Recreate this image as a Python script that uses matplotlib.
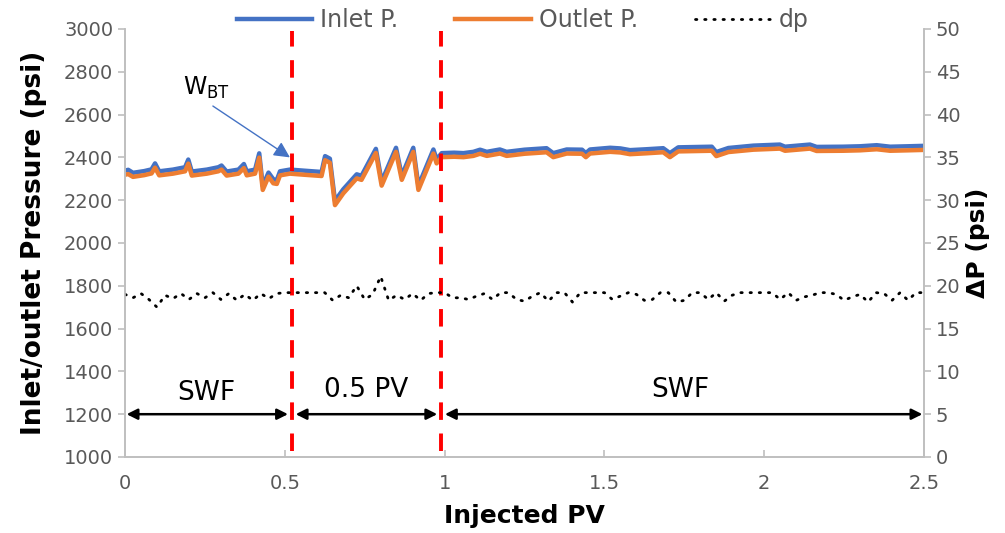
import numpy as np
import matplotlib
matplotlib.use("Agg")
import matplotlib.pyplot as plt

# ---------------- data ----------------
pv_p = [0.0, 0.01, 0.025, 0.06, 0.083, 0.094, 0.107, 0.15, 0.188, 0.198, 0.209,
        0.256, 0.292, 0.302, 0.318, 0.355, 0.372, 0.381, 0.407, 0.42, 0.431,
        0.449, 0.464, 0.475, 0.485, 0.516, 0.56, 0.615, 0.626, 0.641, 0.657,
        0.683, 0.725, 0.74, 0.785, 0.803, 0.848, 0.866, 0.902, 0.918, 0.965,
        0.975, 0.991, 1.03, 1.059, 1.09, 1.111, 1.132, 1.173, 1.194, 1.25,
        1.319, 1.34, 1.382, 1.43, 1.442, 1.455, 1.518, 1.55, 1.58, 1.63,
        1.684, 1.705, 1.731, 1.836, 1.85, 1.888, 1.966, 2.049, 2.065, 2.143,
        2.164, 2.247, 2.3, 2.352, 2.394, 2.45, 2.5]

inlet_p = [2338, 2342, 2328, 2336, 2344, 2372, 2335, 2343, 2354, 2390, 2334,
           2343, 2354, 2362, 2334, 2343, 2369, 2335, 2343, 2419, 2267,
           2329, 2298, 2294, 2335, 2343, 2338, 2332, 2406, 2394, 2197,
           2251, 2321, 2314, 2440, 2287, 2445, 2314, 2445, 2267, 2437,
           2391, 2420, 2422, 2420, 2426, 2436, 2426, 2437, 2426, 2436,
           2443, 2420, 2437, 2436, 2420, 2437, 2445, 2442, 2434, 2438,
           2443, 2420, 2447, 2450, 2425, 2444, 2455, 2460, 2450, 2460,
           2449, 2450, 2452, 2457, 2450, 2452, 2454]

outlet_p = [2319, 2322, 2309, 2317, 2325, 2352, 2316, 2324, 2335, 2371, 2315,
            2324, 2335, 2343, 2315, 2324, 2350, 2316, 2324, 2399, 2248,
            2310, 2279, 2276, 2316, 2324, 2319, 2313, 2387, 2375, 2177,
            2232, 2302, 2295, 2421, 2268, 2426, 2295, 2426, 2248, 2418,
            2372, 2401, 2403, 2401, 2407, 2417, 2407, 2418, 2407, 2417,
            2424, 2401, 2418, 2417, 2401, 2418, 2426, 2423, 2415, 2419,
            2424, 2401, 2428, 2431, 2406, 2425, 2436, 2441, 2431, 2441,
            2430, 2431, 2433, 2438, 2431, 2433, 2435]

pv_dp = np.arange(0, 101) * 0.025
dp = [19.0, 18.6, 19.1, 18.4, 17.5, 18.9, 18.5, 19.1, 18.4, 19.1,
      18.6, 19.2, 18.4, 19.1, 18.3, 19.0, 18.3, 19.1, 18.5, 19.1,
      19.2, 19.2, 19.2, 19.2, 19.2, 19.2, 18.3, 18.9, 18.6, 20.0,
      18.4, 19.0, 21.1, 18.3, 18.9, 18.4, 19.1, 18.3, 19.1, 19.2,
      19.2, 18.6, 18.6, 18.4, 18.8, 19.1, 18.4, 19.2, 19.2, 18.4,
      18.2, 18.8, 19.2, 18.2, 19.2, 19.2, 18.1, 19.2, 19.2, 19.2,
      19.2, 18.4, 18.8, 19.2, 19.0, 18.3, 18.4, 19.2, 19.2, 18.1,
      18.3, 19.2, 19.2, 18.4, 19.2, 18.2, 18.9, 19.2, 19.2, 19.2,
      19.2, 19.2, 18.4, 19.2, 18.3, 18.7, 18.9, 19.2, 19.2, 19.0,
      18.3, 18.7, 19.0, 18.1, 19.2, 19.1, 18.3, 19.2, 18.3, 19.2,
      19.2]

stage_bounds = [0.0, 0.522, 0.989, 2.5]
stage_labels = ["SWF", "0.5 PV", "SWF"]
wbt_label = "W$_{\\mathregular{BT}}$"

x_ticks = [0, 0.5, 1, 1.5, 2, 2.5]
x_ticklabels = ["0", "0.5", "1", "1.5", "2", "2.5"]
y_ticks = list(range(1000, 3001, 200))
y2_ticks = list(range(0, 51, 5))

# ---------------- style ----------------
BLUE = "#4472C4"
ORANGE = "#ED7D31"
GRAY_TXT = "#595959"
GRAY_AX = "#BFBFBF"

plt.rcParams["font.family"] = ["DejaVu Sans"]

fig = plt.figure(figsize=(10.05, 5.33), dpi=100)
ax = fig.add_axes([125 / 1005, 1 - 457 / 533, (924 - 125) / 1005, (457 - 29) / 533])
ax2 = ax.twinx()

l1, = ax.plot(pv_p, inlet_p, color=BLUE, lw=3.2, solid_joinstyle="round", label="Inlet P.")
l2, = ax.plot(pv_p, outlet_p, color=ORANGE, lw=3.2, solid_joinstyle="round", label="Outlet P.")
l3, = ax2.plot(pv_dp, dp, color="black", lw=2.0, linestyle=(0, (0.5, 2.8)),
               dash_capstyle="round", label="dp")

ax.set_xlim(0, 2.5)
ax.set_ylim(1000, 3000)
ax2.set_ylim(0, 50)
ax.set_xticks(x_ticks)
ax.set_xticklabels(x_ticklabels)
ax.set_yticks(y_ticks)
ax2.set_yticks(y2_ticks)

for a in (ax, ax2):
    for s in a.spines.values():
        s.set_color(GRAY_AX)
        s.set_linewidth(1.2)
    a.spines["top"].set_visible(False)
ax.tick_params(axis="y", colors=GRAY_AX, labelcolor=GRAY_TXT, labelsize=14, length=5, width=1.2)
ax.tick_params(axis="x", colors=GRAY_AX, labelcolor=GRAY_TXT, labelsize=14, length=5, width=1.2,
               direction="in", pad=12)
ax2.tick_params(axis="y", colors=GRAY_AX, labelcolor=GRAY_TXT, labelsize=14, length=5, width=1.2)

ax.set_xlabel("Injected PV", fontsize=18, fontweight="bold", labelpad=8)
ax.set_ylabel("Inlet/outlet Pressure (psi)", fontsize=19, fontweight="bold", labelpad=12)
ax2.set_ylabel("ΔP (psi)", fontsize=18, fontweight="bold", labelpad=4)

# red dashed boundaries
for xb in stage_bounds[1:3]:
    ax.plot([xb, xb], [1030, 2990], color="red", lw=2.8, linestyle=(0, (4.5, 3.5)), zorder=4)

# stage arrows and labels
gap = 0.012
for i, lab in enumerate(stage_labels):
    x0 = stage_bounds[i] + (gap if i > 0 else 0.005)
    x1 = stage_bounds[i + 1] - (gap if i < 2 else 0.005)
    ax.annotate("", xy=(x1, 1200), xytext=(x0, 1200),
                arrowprops=dict(arrowstyle="<|-|>", color="black", lw=1.8,
                                mutation_scale=16, shrinkA=0, shrinkB=0), zorder=5)
label_x = [0.255, 0.755, 1.737]
label_y = [1300, 1315, 1315]
for lx, ly, lab in zip(label_x, label_y, stage_labels):
    ax.text(lx, ly, lab, ha="center", va="center", fontsize=19, color="black")

# W_BT annotation
ax.annotate("", xy=(0.516, 2400), xytext=(0.275, 2640),
            arrowprops=dict(arrowstyle="-|>", color=BLUE, lw=1.0, mutation_scale=24,
                            shrinkA=0, shrinkB=0))
ax.text(0.183, 2725, wbt_label, fontsize=17, color="black", ha="left", va="center")

# legend
leg = fig.legend(handles=[l1, l2, l3], loc="upper center", bbox_to_anchor=(0.52, 1.025),
                 ncol=3, frameon=False, fontsize=17, handlelength=3.2, columnspacing=2.4,
                 handletextpad=0.35)
for t in leg.get_texts():
    t.set_color(GRAY_TXT)

fig.savefig("out.png", dpi=100)
